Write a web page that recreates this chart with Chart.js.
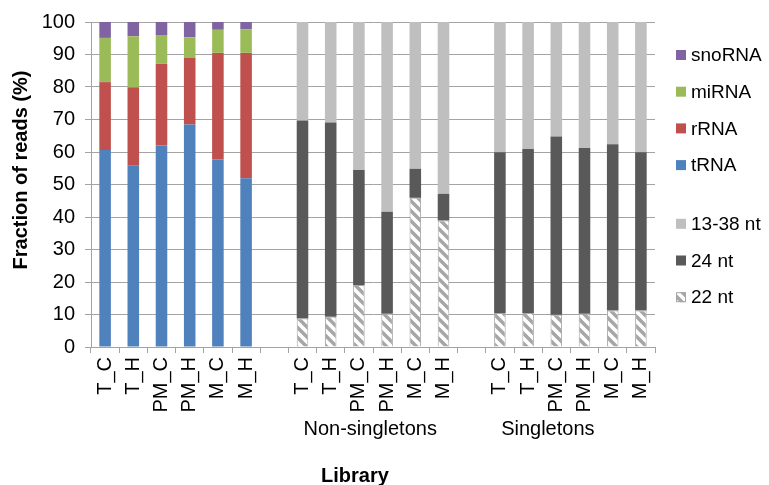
<!DOCTYPE html>
<html>
<head>
<meta charset="utf-8">
<script src="https://cdn.jsdelivr.net/npm/chart.js@4.4.1/dist/chart.umd.min.js"></script>
<style>
    html, body { margin: 0; padding: 0; background: #fff; }
</style>
</head>
<body>
<canvas id="readsChart" width="769" height="485"></canvas>
<script>
// Libraries, one block per group
const libraries = ['T_C', 'T_H', 'PM_C', 'PM_H', 'M_C', 'M_H'];
const yTicks = [0, 10, 20, 30, 40, 50, 60, 70, 80, 90, 100];

// RNA class composition (%)
const tRNA   = [60.6, 55.8, 62.0, 68.5, 57.7, 51.9];
const rRNA   = [20.9, 24.1, 25.1, 20.4, 32.8, 38.6];
const miRNA  = [13.6, 15.7,  8.9,  6.4,  7.1,  7.3];
const snoRNA = [ 4.9,  4.4,  4.0,  4.7,  2.4,  2.2];

// Size classes (%), non-singletons
const nt22Non   = [ 8.8,  9.3, 19.1, 10.2, 45.9, 38.9];
const nt24Non   = [60.9, 59.8, 35.4, 31.4,  8.9,  8.2];
const nt1338Non = [30.3, 30.9, 45.5, 58.4, 45.2, 52.9];

// Size classes (%), singletons
const nt22Sing   = [10.5, 10.5,  9.9, 10.2, 11.2, 11.2];
const nt24Sing   = [49.4, 50.4, 54.9, 51.0, 51.2, 48.7];
const nt1338Sing = [40.1, 39.1, 35.2, 38.8, 37.6, 40.1];

const FONT = "'Liberation Sans', Arial, sans-serif";
const GRID = '#a3a3a3';

// 6 + gap + 6 + gap + 6 slots
const labels = [...libraries, '', ...libraries, '', ...libraries];
const blank = libraries.map(() => null);
const leftOnly = arr => [...arr, null, ...blank, null, ...blank];
const rightOnly = (non, sing) => [...blank, null, ...non, null, ...sing];

// hatched fill for 22 nt
function makeHatch() {
    const size = 10;
    const tile = document.createElement('canvas');
    tile.width = size; tile.height = size;
    const t = tile.getContext('2d');
    t.fillStyle = '#fff';
    t.fillRect(0, 0, size, size);
    t.strokeStyle = '#a6a6a6';
    t.lineWidth = 3.5;
    t.beginPath();
    t.moveTo(-2, -2); t.lineTo(size + 2, size + 2);
    t.moveTo(-2, size - 2); t.lineTo(2, size + 2);
    t.moveTo(size - 2, -2); t.lineTo(size + 2, 2);
    t.stroke();
    return t.createPattern(tile, 'repeat');
}
const hatch = makeHatch();

const datasets = [
    { label: 'tRNA',   data: leftOnly(tRNA),   backgroundColor: '#4f81bd' },
    { label: 'rRNA',   data: leftOnly(rRNA),   backgroundColor: '#c0504d' },
    { label: 'miRNA',  data: leftOnly(miRNA),  backgroundColor: '#9bbb59' },
    { label: 'snoRNA', data: leftOnly(snoRNA), backgroundColor: '#8064a2' },
    { label: '22 nt',  data: rightOnly(nt22Non, nt22Sing), backgroundColor: hatch,
      borderColor: '#a6a6a6', borderWidth: 1 },
    { label: '24 nt',  data: rightOnly(nt24Non, nt24Sing), backgroundColor: '#595959' },
    { label: '13-38 nt', data: rightOnly(nt1338Non, nt1338Sing), backgroundColor: '#bfbfbf' }
].map(d => ({ barPercentage: 0.41, categoryPercentage: 1, stack: 'all', ...d }));

// legend order as in the figure, with a gap between the two groups
const legendOrder = [['snoRNA', 'miRNA', 'rRNA', 'tRNA'], ['13-38 nt', '24 nt', '22 nt']];

const extras = {
    id: 'extras',
    afterDraw(chart) {
        const ctx = chart.ctx;
        const x = chart.scales.x;
        const area = chart.chartArea;
        ctx.save();
        ctx.fillStyle = '#000';
        ctx.textBaseline = 'middle';

        // legend
        ctx.font = `19px ${FONT}`;
        ctx.textAlign = 'left';
        let y = 55;
        legendOrder.forEach((group, gi) => {
            if (gi > 0) y += 22;
            group.forEach(name => {
                const ds = chart.data.datasets.find(d => d.label === name);
                ctx.fillStyle = ds.backgroundColor;
                ctx.fillRect(676, y - 5, 10, 10);
                if (ds.borderWidth) {
                    ctx.strokeStyle = ds.borderColor;
                    ctx.lineWidth = 1;
                    ctx.strokeRect(676.5, y - 4.5, 9, 9);
                }
                ctx.fillStyle = '#000';
                ctx.fillText(name, 691, y + 1);
                y += 36.7;
            });
        });

        // group captions under the tick labels
        ctx.font = `20px ${FONT}`;
        ctx.textAlign = 'center';
        ctx.fillText('Non-singletons', x.getPixelForValue(9.4), 429);
        ctx.fillText('Singletons', x.getPixelForValue(15.7), 429);

        // axis titles
        ctx.font = `bold 20px ${FONT}`;
        ctx.fillText('Library', area.left + 264, 476);
        ctx.translate(21, 170);
        ctx.rotate(-Math.PI / 2);
        ctx.fillText('Fraction of reads (%)', 0, 0);
        ctx.restore();
    }
};

new Chart(document.getElementById('readsChart'), {
    type: 'bar',
    data: { labels, datasets },
    plugins: [extras],
    options: {
        responsive: false,
        animation: false,
        layout: { padding: { top: 18, right: 114, left: 0, bottom: 0 } },
        plugins: {
            legend: { display: false },
            tooltip: { enabled: false }
        },
        scales: {
            x: {
                stacked: true,
                grid: { offset: true, drawOnChartArea: false, color: GRID, tickLength: 6 },
                border: { color: GRID },
                ticks: {
                    autoSkip: false, minRotation: 90, maxRotation: 90, padding: 4,
                    color: '#000', font: { family: FONT, size: 20 }
                },
                afterFit: s => { s.height = 138; }
            },
            y: {
                stacked: true,
                min: yTicks[0],
                max: yTicks[yTicks.length - 1],
                afterBuildTicks: s => { s.ticks = yTicks.map(v => ({ value: v })); },
                grid: { color: GRID, tickLength: 6 },
                border: { color: GRID },
                ticks: { padding: 10, color: '#000', font: { family: FONT, size: 20 } },
                afterFit: s => { s.width = 91; }
            }
        }
    }
});
</script>
</body>
</html>
